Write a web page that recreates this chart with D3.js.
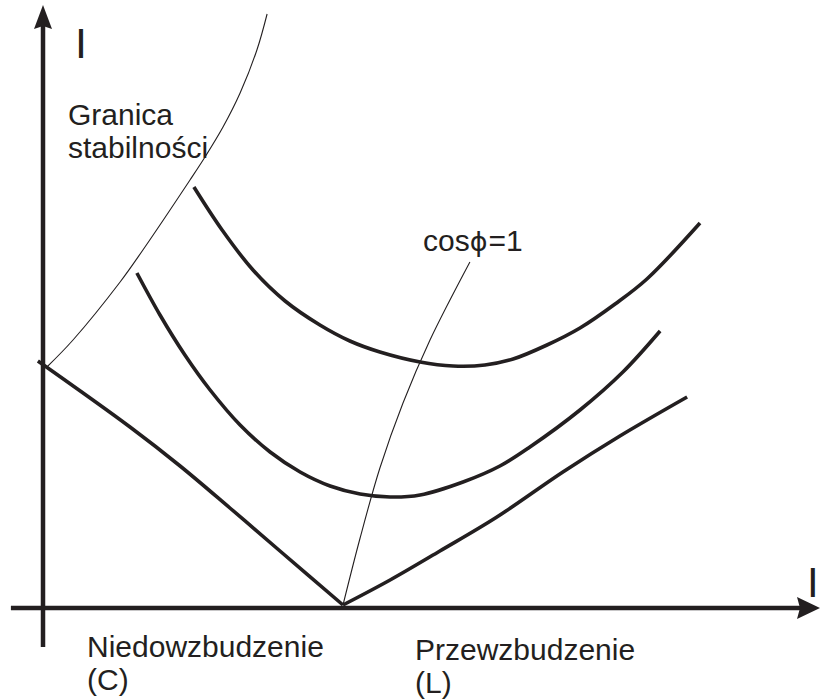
<!DOCTYPE html>
<html>
<head>
<meta charset="utf-8">
<script src="https://cdn.jsdelivr.net/npm/d3@7"></script>
<style>
  html, body { margin: 0; padding: 0; background: #fff; }
  svg text { font-family: "Liberation Sans", Arial, sans-serif; fill: #231f20; }
</style>
</head>
<body>
<div id="chart"></div>
<script>
// V-curves of a synchronous machine: armature current I vs excitation current
// x: excitation current (1 = excitation for cos(phi)=1 at no load), y: armature current

// no-load curve (P = 0), split at the cos(phi)=1 point
const curveP0Left = [[-0.017, 0.988], [0.29, 0.724], [0.457, 0.568], [0.623, 0.4], [0.79, 0.228], [1.0, 0.012]];
const curveP0Right = [[1.0, 0.012], [1.157, 0.112], [1.323, 0.228], [1.513, 0.364], [1.733, 0.544], [1.923, 0.688], [2.147, 0.844]];

// load curve (P1)
const curveP1 = [
  [0.313, 1.34], [0.39, 1.172], [0.473, 1.012], [0.557, 0.872], [0.657, 0.732],
  [0.757, 0.624], [0.857, 0.544], [0.957, 0.488], [1.057, 0.456], [1.157, 0.444],
  [1.257, 0.452], [1.4, 0.504], [1.523, 0.568], [1.623, 0.644], [1.79, 0.792],
  [1.933, 0.944], [2.057, 1.108]
];

// load curve (P2 > P1)
const curveP2 = [
  [0.503, 1.684], [0.597, 1.512], [0.7, 1.352], [0.807, 1.228], [0.923, 1.132],
  [1.023, 1.068], [1.123, 1.024], [1.257, 0.984], [1.367, 0.968], [1.473, 0.972],
  [1.567, 0.996], [1.68, 1.052], [1.79, 1.12], [1.907, 1.216], [2.013, 1.316], [2.19, 1.54]
];

// stability limit
const stabilityLimit = [
  [0.013, 0.964], [0.1, 1.072], [0.257, 1.304], [0.333, 1.432], [0.49, 1.712],
  [0.54, 1.804], [0.6, 1.924], [0.657, 2.06], [0.713, 2.232], [0.747, 2.376]
];

// cos(phi) = 1 locus
const unityPF = [[1.0, 0.012], [1.057, 0.28], [1.123, 0.56], [1.2, 0.82], [1.29, 1.072], [1.423, 1.384]];

// axis extents (data units)
const xAxisExtent = [-0.107, 2.59];
const yAxisExtent = [-0.156, 2.412];

const labels = {
  axisY: "I",
  axisX: "I",
  stability: ["Granica", "stabilności"],
  unity: ["cos", "ϕ", "=1"],
  under: ["Niedowzbudzenie", "(C)"],
  over: ["Przewzbudzenie", "(L)"]
};

const width = 820, height = 699;
const ink = "#231f20";

const svg = d3.select("#chart").append("svg")
  .attr("width", width)
  .attr("height", height)
  .attr("viewBox", `0 0 ${width} ${height}`);

const x = d3.scaleLinear().domain([0, 1]).range([43, 343]);
const y = d3.scaleLinear().domain([0, 1]).range([608, 358]);

const smooth = d3.line().x(d => x(d[0])).y(d => y(d[1])).curve(d3.curveCatmullRom.alpha(0.5));

// axes
const axisG = svg.append("g");
axisG.append("line")
  .attr("x1", x(0)).attr("x2", x(0))
  .attr("y1", y(yAxisExtent[0])).attr("y2", y(yAxisExtent[1]) + 20)
  .attr("stroke", ink).attr("stroke-width", 4.5);
axisG.append("line")
  .attr("x1", x(xAxisExtent[0])).attr("x2", x(xAxisExtent[1]) - 18)
  .attr("y1", y(0)).attr("y2", y(0))
  .attr("stroke", ink).attr("stroke-width", 4.5);

// arrow heads
const yt = [x(0), y(yAxisExtent[1])];
axisG.append("path")
  .attr("d", `M${yt[0]},${yt[1]} L${yt[0] + 9},${yt[1] + 24} L${yt[0]},${yt[1] + 21} L${yt[0] - 9},${yt[1] + 24} Z`)
  .attr("fill", ink);
const xt = [x(xAxisExtent[1]), y(0)];
axisG.append("path")
  .attr("d", `M${xt[0]},${xt[1]} L${xt[0] - 23},${xt[1] - 11} L${xt[0] - 20},${xt[1]} L${xt[0] - 23},${xt[1] + 11} Z`)
  .attr("fill", ink);

// thin loci
svg.append("path").attr("d", smooth(stabilityLimit))
  .attr("fill", "none").attr("stroke", ink).attr("stroke-width", 1.1);
svg.append("path").attr("d", smooth(unityPF))
  .attr("fill", "none").attr("stroke", ink).attr("stroke-width", 1.1);

// V-curves
[curveP0Left, curveP0Right, curveP1, curveP2].forEach(c => {
  svg.append("path").attr("d", smooth(c))
    .attr("fill", "none").attr("stroke", ink).attr("stroke-width", 3.6)
    .attr("stroke-linejoin", "round");
});

// labels
svg.append("text").attr("x", 75).attr("y", 58).attr("font-size", 43).text(labels.axisY);
svg.append("text").attr("x", 807).attr("y", 597).attr("font-size", 42).text(labels.axisX);

const stab = svg.append("text").attr("x", 68).attr("y", 125).attr("font-size", 30);
labels.stability.forEach((t, i) => stab.append("tspan").attr("x", 68).attr("dy", i ? 33 : 0).text(t));

// cos(phi)=1 label, phi from a font that has the straight-stroke form
const unity = svg.append("text").attr("x", 423).attr("y", 251).attr("font-size", 30);
unity.append("tspan").text(labels.unity[0]);
unity.append("tspan").attr("font-family", "'DejaVu Sans', sans-serif").attr("font-size", 27).text(labels.unity[1]);
unity.append("tspan").attr("dx", 1).text(labels.unity[2]);

const under = svg.append("text").attr("x", 87).attr("y", 657).attr("font-size", 30);
labels.under.forEach((t, i) => under.append("tspan").attr("x", 87).attr("dy", i ? 33 : 0).text(t));

const over = svg.append("text").attr("x", 415).attr("y", 660).attr("font-size", 30);
labels.over.forEach((t, i) => over.append("tspan").attr("x", 415).attr("dy", i ? 33 : 0).text(t));
</script>
</body>
</html>
